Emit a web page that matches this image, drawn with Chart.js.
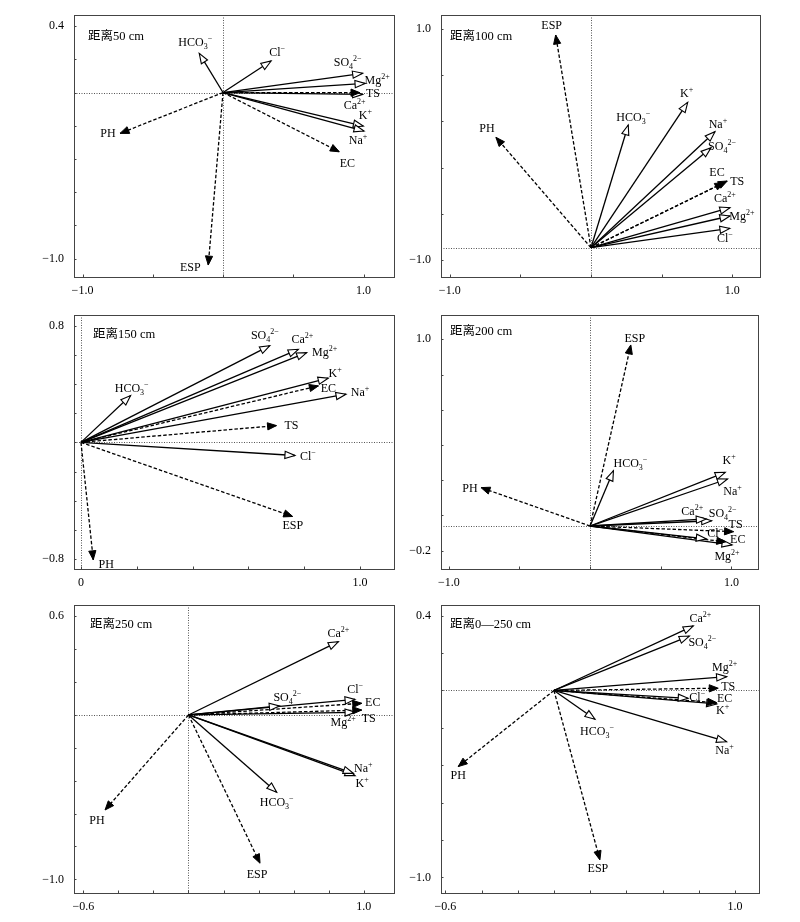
<!DOCTYPE html>
<html><head><meta charset="utf-8">
<script src="https://cdn.jsdelivr.net/npm/chart.js@4.4.0/dist/chart.umd.min.js"></script>
<style>
html,body{margin:0;padding:0;background:#fff;}
#wrap{position:relative;width:800px;height:922px;background:#fff;overflow:hidden;}
.panel{position:absolute;}
</style></head><body><div id="wrap"></div>
<script>
// ================= DATA =================
const panelTitles = ['距离50 cm', '距离100 cm', '距离150 cm', '距离200 cm', '距离250 cm', '距离0—250 cm'];
// variables (markup: _x = subscript, ^x = superscript)
const variableLabels = ['HCO_3^−', 'Cl^−', 'SO_4^2−', 'Mg^2+', 'Ca^2+', 'K^+', 'Na^+', 'TS', 'EC', 'PH', 'ESP'];
const dashedVariables = ['TS', 'EC', 'PH', 'ESP'];

// arrow tips (x, y) per panel, same order as variableLabels
const x50  = [-0.169, 0.342, 0.994, 1.011, 0.994, 0.999, 1.004, 0.975, 0.828, -0.733, -0.105];
const y50  = [0.236, 0.190, 0.116, 0.055, -0.011, -0.202, -0.232, -0.001, -0.357, -0.246, -1.039];
const x100 = [0.264, 0.984, 0.850, 0.984, 0.984, 0.685, 0.878, 0.965, 0.942, -0.673, -0.250];
const y100 = [0.169, -0.726, -0.028, -0.619, -0.547, 0.365, 0.111, -0.316, -0.331, 0.062, 0.948];
const x150 = [0.178, 0.767, 0.677, 0.809, 0.779, 0.886, 0.950, 0.701, 0.851, 0.044, 0.759];
const y150 = [0.321, -0.090, 0.663, 0.615, 0.638, 0.440, 0.330, 0.115, 0.387, -0.805, -0.508];
const x200 = [0.165, 0.822, 0.860, 1.004, 0.822, 0.956, 0.972, 1.015, 0.960, -0.772, 0.288];
const y200 = [0.254, -0.133, -0.030, -0.167, -0.020, 0.245, 0.207, -0.092, -0.150, 0.158, 0.968];
const x250 = [0.503, 0.950, 0.518, 0.950, 0.855, 0.950, 0.940, 0.988, 0.988, -0.476, 0.408];
const y250 = [-0.470, 0.095, 0.055, 0.016, 0.446, -0.369, -0.355, 0.030, 0.071, -0.578, -0.902];
const x0250 = [0.227, 0.742, 0.748, 0.954, 0.770, 0.899, 0.954, 0.908, 0.899, -0.529, 0.254];
const y0250 = [-0.154, -0.042, 0.291, 0.074, 0.345, -0.072, -0.274, 0.012, -0.065, -0.407, -0.906];

// origin (crossing of the reference lines) per panel, in axis units
const originX = [0, 0, 0, 0, 0, 0];
const originY = [0, -0.8935, 0, -0.06, 0, 0];

// printed tick labels
const xTickValues = [[-1, 1], [-1, 1], [0, 1], [-1, 1], [-0.6, 1], [-0.6, 1]];
const xTickLabels = [['−1.0', '1.0'], ['−1.0', '1.0'], ['0', '1.0'], ['−1.0', '1.0'], ['−0.6', '1.0'], ['−0.6', '1.0']];
const yTickValues = [[0.4, -1], [1, -1], [0.8, -0.8], [1, -0.2], [0.6, -1], [0.4, -1]];
const yTickLabels = [['0.4', '−1.0'], ['1.0', '−1.0'], ['0.8', '−0.8'], ['1.0', '−0.2'], ['0.6', '−1.0'], ['0.4', '−1.0']];

const panelX = [x50, x100, x150, x200, x250, x0250];
const panelY = [y50, y100, y150, y200, y250, y0250];

// ================= LAYOUT / STYLE =================
const frames = [
  {l: 74, t: 15, r: 394, b: 277}, {l: 441, t: 15, r: 760, b: 277},
  {l: 74, t: 315, r: 394, b: 569}, {l: 441, t: 315, r: 758, b: 569},
  {l: 74, t: 605, r: 394, b: 893}, {l: 441, t: 605, r: 759, b: 893}
];
const ranges = [
  {x: [-1.0605, 1.217], y: [-1.111, 0.467]},
  {x: [-1.062, 1.197], y: [-1.147, 1.121]},
  {x: [-0.025, 1.122], y: [-0.868, 0.873]},
  {x: [-1.055, 1.188], y: [-0.304, 1.138]},
  {x: [-0.653, 1.172], y: [-1.083, 0.669]},
  {x: [-0.624, 1.133], y: [-1.083, 0.457]}
];
const minorStep = [{x: 0.5, y: 0.2}, {x: 0.5, y: 0.4}, {x: 0.2, y: 0.2}, {x: 0.5, y: 0.2}, {x: 0.2, y: 0.2}, {x: 0.2, y: 0.2}];
const showVLine = [true, true, true, true, true, false];
const titleOffset = [[14, 22], [9, 22], [19, 20], [9, 17], [16, 20], [9, 20]];
const labelOffsets = [
  [[-4,-11],[6,-9],[-15,-11],[12,-3],[-8,11],[2,-11],[-6,9],[13,0],[8,11],[-12,0],[-18,2]],
  [[5,-8],[-5,10],[11,-2],[12,0],[-5,-10],[-1,-9],[3,-8],[10,0],[-7,-11],[-9,-9],[-4,-10]],
  [[1,-8],[13,1],[-5,-11],[18,-1],[4,-10],[7,-5],[14,-2],[15,-1],[10,2],[13,4],[0,9]],
  [[17,-8],[9,-6],[11,-8],[-5,11],[-14,-8],[4,-12],[5,12],[2,-8],[12,-3],[-11,0],[4,-7]],
  [[0,10],[0,-10],[8,-9],[-12,10],[0,-9],[7,7],[10,-5],[7,8],[11,-1],[-8,10],[-3,11]],
  [[2,12],[9,-1],[13,6],[-2,-10],[7,-8],[6,6],[-2,8],[10,-2],[8,-5],[0,8],[-2,8]]
];
const FONT = '"Liberation Serif", "Times New Roman", "Noto Sans CJK SC", serif';
const PAD_L = 50, PAD_T = 8, PAD_R = 8, PAD_B = 30;

Chart.defaults.font.family = FONT;
Chart.defaults.font.size = 12;
Chart.defaults.color = '#000';

function isDashed(lab) { return dashedVariables.indexOf(lab) >= 0; }

function buildTicks(scale, labelVals, step) {
  const start = labelVals[0];
  const vals = [];
  for (let k = -40; k <= 40; k++) {
    const v = Math.round((start + k * step) * 1e6) / 1e6;
    if (v >= scale.min - 1e-9 && v <= scale.max + 1e-9) vals.push(v);
  }
  labelVals.forEach(v => { if (!vals.some(u => Math.abs(u - v) < 1e-6)) vals.push(v); });
  vals.sort((a, b) => a - b);
  scale.ticks = vals.map(v => ({value: v}));
}
function tickText(value, vals, texts) {
  for (let i = 0; i < vals.length; i++) if (Math.abs(vals[i] - value) < 1e-6) return texts[i];
  return '';
}

function parseLabel(t) {
  const m = t.match(/^([^_^]*)(?:_([^^]))?(?:\^(.*))?$/);
  return {base: m[1] || '', sub: m[2] || '', sup: m[3] || ''};
}
function drawRich(ctx, text, cx, cy) {
  const p = parseLabel(text);
  const bigF = '12px ' + FONT, smallF = '8px ' + FONT;
  ctx.font = bigF; const wb = ctx.measureText(p.base).width;
  ctx.font = smallF; const ws = ctx.measureText(p.sub).width; const wp = ctx.measureText(p.sup).width;
  let x = cx - (wb + ws + wp) / 2;
  const base = cy + 4;
  ctx.textAlign = 'left'; ctx.textBaseline = 'alphabetic'; ctx.fillStyle = '#000';
  ctx.font = bigF; ctx.fillText(p.base, x, base); x += wb;
  ctx.font = smallF;
  if (p.sub) { ctx.fillText(p.sub, x, base + 3); x += ws; }
  if (p.sup) { ctx.fillText(p.sup, x, base - 5); }
}

function arrowHead(ctx, x0, y0, x1, y1, filled) {
  const ang = Math.atan2(y1 - y0, x1 - x0);
  const L = filled ? 9 : 10, W = 3.6;
  const bx = x1 - L * Math.cos(ang), by = y1 - L * Math.sin(ang);
  const px = -Math.sin(ang) * W, py = Math.cos(ang) * W;
  ctx.beginPath();
  ctx.moveTo(x1, y1);
  ctx.lineTo(bx + px, by + py);
  ctx.lineTo(bx - px, by - py);
  ctx.closePath();
  ctx.setLineDash([]);
  if (filled) { ctx.fillStyle = '#000'; ctx.fill(); ctx.lineWidth = 1; ctx.strokeStyle = '#000'; ctx.stroke(); }
  else { ctx.fillStyle = '#fff'; ctx.fill(); ctx.lineWidth = 1.1; ctx.strokeStyle = '#000'; ctx.stroke(); }
}

function biplotPlugin(i) {
  return {
    id: 'biplot' + i,
    beforeDatasetsDraw(chart) {
      const {ctx, chartArea: a, scales: {x, y}} = chart;
      const ox = Math.round(x.getPixelForValue(originX[i])) + 0.5;
      const oy = Math.round(y.getPixelForValue(originY[i])) + 0.5;
      ctx.save();
      ctx.strokeStyle = '#555'; ctx.lineWidth = 1; ctx.setLineDash([1, 1.5]);
      ctx.beginPath();
      ctx.moveTo(a.left, oy); ctx.lineTo(a.right, oy);
      if (showVLine[i]) { ctx.moveTo(ox, a.top); ctx.lineTo(ox, a.bottom); }
      ctx.stroke();
      ctx.restore();
    },
    afterDatasetsDraw(chart) {
      const {ctx, scales: {x, y}} = chart;
      const ox = x.getPixelForValue(originX[i]), oy = y.getPixelForValue(originY[i]);
      ctx.save();
      variableLabels.forEach((lab, k) => {
        const tx = x.getPixelForValue(panelX[i][k]), ty = y.getPixelForValue(panelY[i][k]);
        arrowHead(ctx, ox, oy, tx, ty, isDashed(lab));
      });
      variableLabels.forEach((lab, k) => {
        const tx = x.getPixelForValue(panelX[i][k]), ty = y.getPixelForValue(panelY[i][k]);
        const off = labelOffsets[i][k];
        drawRich(ctx, lab, tx + off[0], ty + off[1]);
      });
      ctx.restore();
    },
    afterDraw(chart) {
      const {ctx, chartArea: a, scales: {x, y}} = chart;
      ctx.save();
      ctx.strokeStyle = '#444'; ctx.lineWidth = 1; ctx.setLineDash([]);
      ctx.strokeRect(Math.round(a.left) + 0.5, Math.round(a.top) + 0.5, Math.round(a.right - a.left), Math.round(a.bottom - a.top));
      ctx.beginPath();
      x.ticks.forEach(t => { const px = Math.round(x.getPixelForValue(t.value)) + 0.5; ctx.moveTo(px, a.bottom); ctx.lineTo(px, a.bottom - 2.5); });
      y.ticks.forEach(t => { const py = Math.round(y.getPixelForValue(t.value)) + 0.5; ctx.moveTo(a.left, py); ctx.lineTo(a.left + 2.5, py); });
      ctx.stroke();
      ctx.fillStyle = '#000';
      ctx.font = '12.5px ' + FONT;
      ctx.textAlign = 'left'; ctx.textBaseline = 'middle';
      ctx.fillText(panelTitles[i], a.left + titleOffset[i][0], a.top + titleOffset[i][1]);
      ctx.restore();
    }
  };
}

const wrap = document.getElementById('wrap');
frames.forEach((f, i) => {
  const div = document.createElement('div');
  div.className = 'panel';
  div.style.left = (f.l - PAD_L) + 'px';
  div.style.top = (f.t - PAD_T) + 'px';
  div.style.width = (f.r - f.l + PAD_L + PAD_R) + 'px';
  div.style.height = (f.b - f.t + PAD_T + PAD_B) + 'px';
  const canvas = document.createElement('canvas');
  div.appendChild(canvas);
  wrap.appendChild(div);

  const datasets = variableLabels.map((lab, k) => ({
    label: lab,
    data: [{x: originX[i], y: originY[i]}, {x: panelX[i][k], y: panelY[i][k]}],
    showLine: true,
    borderColor: '#000',
    backgroundColor: '#000',
    borderWidth: 1.3,
    borderDash: isDashed(lab) ? [3.5, 2] : [],
    pointRadius: 0,
    pointHoverRadius: 0,
    clip: false
  }));

  new Chart(canvas, {
    type: 'scatter',
    data: {datasets},
    options: {
      responsive: true,
      maintainAspectRatio: false,
      animation: false,
      events: [],
      layout: {padding: {top: PAD_T, right: PAD_R, left: 0, bottom: 0}},
      plugins: {legend: {display: false}, tooltip: {enabled: false}},
      scales: {
        x: {
          type: 'linear', position: 'bottom',
          min: ranges[i].x[0], max: ranges[i].x[1],
          grid: {display: false, drawTicks: false},
          border: {display: false},
          ticks: {autoSkip: false, maxRotation: 0, padding: 7, color: '#000', font: {size: 12},
                  callback: v => tickText(v, xTickValues[i], xTickLabels[i])},
          afterBuildTicks: s => buildTicks(s, xTickValues[i], minorStep[i].x),
          afterFit: s => { s.height = PAD_B; s.paddingLeft = 0; s.paddingRight = 0; s.paddingTop = 0; s.paddingBottom = 0; }
        },
        y: {
          type: 'linear', position: 'left',
          min: ranges[i].y[0], max: ranges[i].y[1],
          grid: {display: false, drawTicks: false},
          border: {display: false},
          ticks: {autoSkip: false, padding: 10, color: '#000', font: {size: 12},
                  callback: v => tickText(v, yTickValues[i], yTickLabels[i])},
          afterBuildTicks: s => buildTicks(s, yTickValues[i], minorStep[i].y),
          afterFit: s => { s.width = PAD_L; s.paddingTop = 0; s.paddingBottom = 0; s.paddingLeft = 0; s.paddingRight = 0; }
        }
      }
    },
    plugins: [biplotPlugin(i)]
  });
});
</script>
</body></html>
